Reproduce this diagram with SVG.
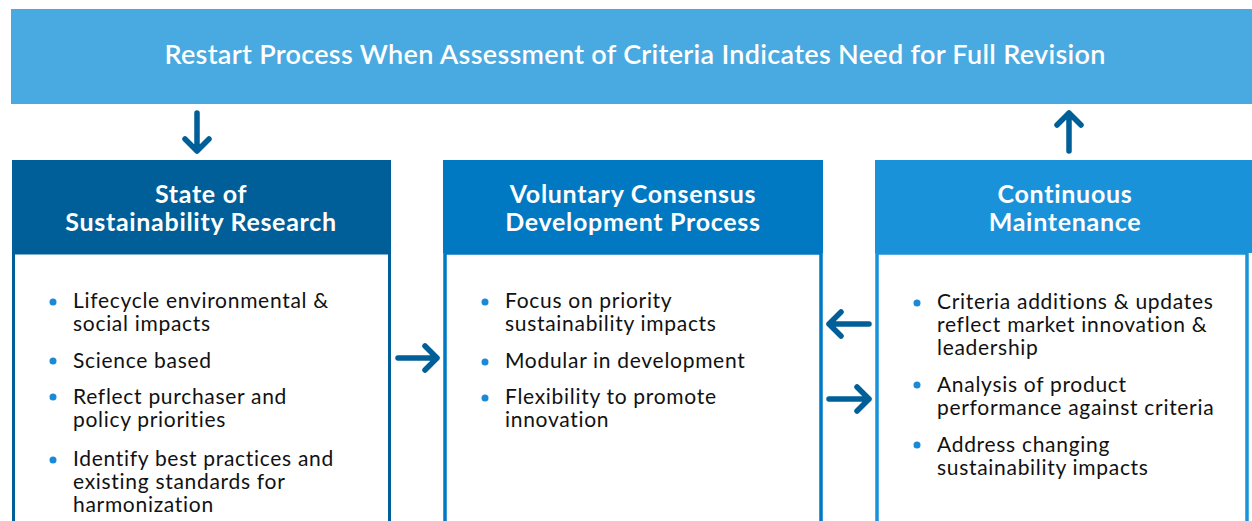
<svg xmlns="http://www.w3.org/2000/svg" width="1252" height="521" viewBox="0 0 1252 521">
  <style>
    .banner-text { font-family: Lato, "Open Sans", "Liberation Sans", sans-serif; font-size: 27px; font-weight: 600; letter-spacing: 0.3px; fill: #ffffff; }
    .head { font-family: Lato, "Open Sans", "Liberation Sans", sans-serif; font-size: 25px; font-weight: 700; letter-spacing: 0.7px; fill: #ffffff; }
    .item { font-family: Lato, "Open Sans", "Liberation Sans", sans-serif; font-size: 21px; letter-spacing: 0.7px; fill: #111111; }
    .dot { fill: #1a8ad8; }
    .arrow { fill: none; stroke: #005f98; stroke-width: 5.5; stroke-linecap: round; stroke-linejoin: round; }
  </style>
  <rect width="1252" height="521" fill="#ffffff"/>

  <!-- top banner -->
  <g id="banner">
    <rect x="11" y="9" width="1241" height="95" fill="#49a9e1"/>
    <text class="banner-text" x="635" y="64" text-anchor="middle">Restart Process When Assessment of Criteria Indicates Need for Full Revision</text>
  </g>

  <!-- left column -->
  <g id="research">
    <rect x="13.5" y="253" width="376" height="280" fill="#ffffff" stroke="#005f98" stroke-width="3"/>
    <rect x="12" y="160" width="379" height="93" fill="#005f98"/>
    <text class="head" text-anchor="middle" x="201" y="203">State of</text>
    <text class="head" text-anchor="middle" x="201" y="231">Sustainability Research</text>
    <circle class="dot" cx="53" cy="302" r="3.5"/>
    <text class="item" x="73" y="308">Lifecycle environmental &amp;</text>
    <text class="item" x="73" y="331">social impacts</text>
    <circle class="dot" cx="53" cy="361" r="3.5"/>
    <text class="item" x="73" y="368">Science based</text>
    <circle class="dot" cx="53" cy="397" r="3.5"/>
    <text class="item" x="73" y="404">Reflect purchaser and</text>
    <text class="item" x="73" y="427">policy priorities</text>
    <circle class="dot" cx="53" cy="460" r="3.5"/>
    <text class="item" x="73" y="466">Identify best practices and</text>
    <text class="item" x="73" y="489">existing standards for</text>
    <text class="item" x="73" y="512">harmonization</text>
  </g>

  <!-- middle column -->
  <g id="consensus">
    <rect x="445" y="253" width="376" height="280" fill="#ffffff" stroke="#0079c2" stroke-width="3.5"/>
    <rect x="443" y="160" width="380" height="93" fill="#0079c2"/>
    <text class="head" text-anchor="middle" x="633" y="203">Voluntary Consensus</text>
    <text class="head" text-anchor="middle" x="633" y="231">Development Process</text>
    <circle class="dot" cx="485" cy="302" r="3.5"/>
    <text class="item" x="505" y="308">Focus on priority</text>
    <text class="item" x="505" y="331">sustainability impacts</text>
    <circle class="dot" cx="485" cy="362" r="3.5"/>
    <text class="item" x="505" y="368">Modular in development</text>
    <circle class="dot" cx="485" cy="398" r="3.5"/>
    <text class="item" x="505" y="404">Flexibility to promote</text>
    <text class="item" x="505" y="427">innovation</text>
  </g>

  <!-- right column -->
  <g id="maintenance">
    <rect x="877" y="253" width="370" height="280" fill="#ffffff" stroke="#1a92d9" stroke-width="3.5"/>
    <rect x="875" y="160" width="377" height="93" fill="#1a92d9"/>
    <text class="head" text-anchor="middle" x="1065" y="203">Continuous</text>
    <text class="head" text-anchor="middle" x="1065" y="231">Maintenance</text>
    <circle class="dot" cx="917" cy="303" r="3.5"/>
    <text class="item" x="937" y="309">Criteria additions &amp; updates</text>
    <text class="item" x="937" y="332">reflect market innovation &amp;</text>
    <text class="item" x="937" y="355">leadership</text>
    <circle class="dot" cx="917" cy="385" r="3.5"/>
    <text class="item" x="937" y="392">Analysis of product</text>
    <text class="item" x="937" y="415">performance against criteria</text>
    <circle class="dot" cx="917" cy="445" r="3.5"/>
    <text class="item" x="937" y="452">Address changing</text>
    <text class="item" x="937" y="475">sustainability impacts</text>
  </g>

  <!-- connectors -->
  <g id="connectors">
    <path class="arrow" d="M197 113 V151 M185 139 L197 151 L209 139"/>
    <path class="arrow" d="M1069 151 V113 M1057 125 L1069 113 L1081 125"/>
    <path class="arrow" d="M398 358 H437 M425 346 L437 358 L425 370"/>
    <path class="arrow" d="M869 324 H829 M841 312 L829 324 L841 336"/>
    <path class="arrow" d="M829 399 H869 M857 387 L869 399 L857 411"/>
  </g>
</svg>
